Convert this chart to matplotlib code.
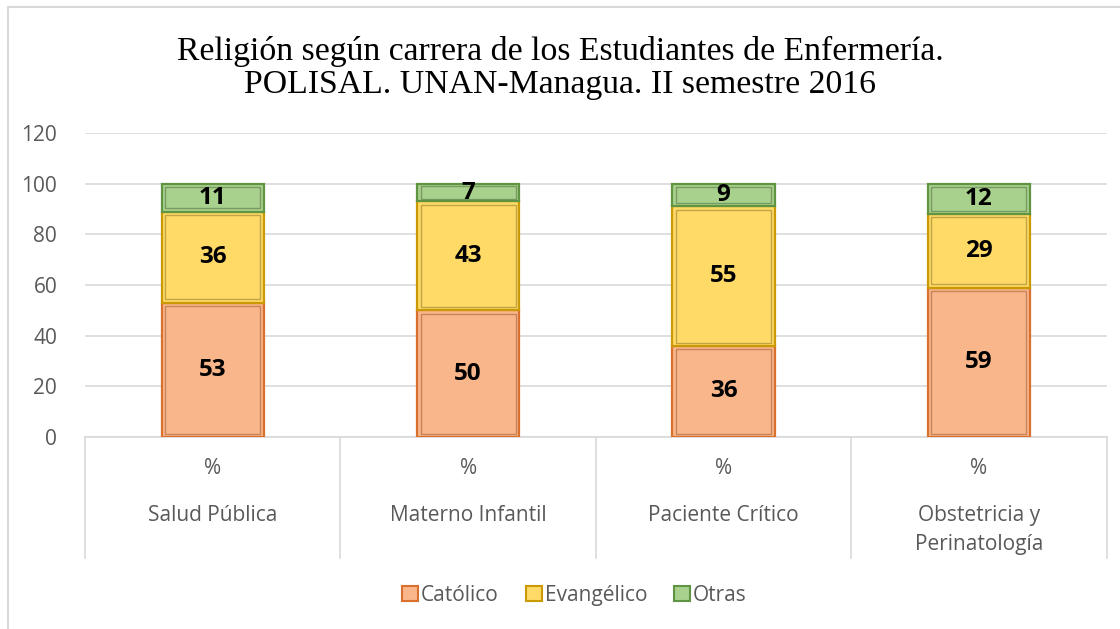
import matplotlib.pyplot as plt
import matplotlib.patches as mpatches
import matplotlib.transforms as mtransforms
import numpy as np

# datos
carreras = ["Salud Pública", "Materno Infantil", "Paciente Crítico", "Obstetricia y\nPerinatología"]
catolico = [53, 50, 36, 59]
evangelico = [36, 43, 55, 29]
otras = [11, 7, 9, 12]
yticks = [0, 20, 40, 60, 80, 100, 120]

series = [
    ("Católico", catolico, "#F9B68A", "#D9702E", "#9E5A33"),
    ("Evangélico", evangelico, "#FFDA66", "#C99A06", "#8E7A2A"),
    ("Otras", otras, "#A9D18E", "#5E9442", "#4F6E3A"),
]

plt.rcParams['font.family'] = ['Open Sans', 'DejaVu Sans']
gris = "#595959"

fig = plt.figure(figsize=(11.2, 6.29), dpi=100)
ax = fig.add_axes([0.0759, 0.3052, 0.9121, 0.4834])

x = np.arange(len(carreras))
bottom = np.zeros(len(carreras))
handles = []
for name, vals, face, edge, dark in series:
    bars = ax.bar(x, vals, 0.4, bottom=bottom, color=face, edgecolor=edge,
                  linewidth=1.6, zorder=3)
    # bisel interior
    for b in bars:
        bx, by = b.get_x(), b.get_y()
        w, h = b.get_width(), b.get_height()
        inset_x = w * 0.035
        inset_y = min(1.3, h * 0.15)
        ax.add_patch(mpatches.Rectangle((bx + inset_x, by + inset_y), w - 2 * inset_x, h - 2 * inset_y,
                                        fill=False, edgecolor=dark, linewidth=1.0, alpha=0.55, zorder=4))
    ax.bar_label(bars, label_type='center', fontsize=17.5, fontweight='bold', color='black', zorder=5)
    bottom += np.array(vals)
    handles.append(mpatches.Patch(facecolor=face, edgecolor=edge, linewidth=1.5, label=name))

ax.set_xlim(-0.5, len(carreras) - 0.5)
ax.set_ylim(0, 120)
ax.set_yticks(yticks)
ax.tick_params(axis='y', length=0, labelsize=15, labelcolor=gris, pad=20)
ax.yaxis.grid(True, color="#D9D9D9", linewidth=1.2, zorder=0)
ax.set_axisbelow(True)
for s in ['top', 'right', 'left']:
    ax.spines[s].set_visible(False)
ax.spines['bottom'].set_color("#D9D9D9")
ax.spines['bottom'].set_linewidth(1.2)

ax.set_xticks(x)
ax.set_xticklabels(["%"] * len(carreras))
ax.tick_params(axis='x', length=0, labelsize=15, labelcolor=gris, pad=15)

trans = mtransforms.blended_transform_factory(ax.transData, ax.transAxes)
for i, c in enumerate(carreras):
    ax.text(i, -0.222, c, transform=trans, ha='center', va='top', fontsize=15,
            color=gris, linespacing=1.5)
for i in range(len(carreras) + 1):
    ax.plot([i - 0.5, i - 0.5], [0, -0.398], transform=trans, color="#D9D9D9",
            linewidth=1.2, clip_on=False)

fig.suptitle("Religión según carrera de los Estudiantes de Enfermería.\nPOLISAL. UNAN-Managua. II semestre 2016",
             y=0.943, fontsize=24.3, family='Liberation Serif', color='black', linespacing=1.1)

fig.legend(handles=handles, loc='center', bbox_to_anchor=(0.513, 0.054), ncol=3, frameon=False,
           fontsize=15, labelcolor=gris, handlelength=0.75, handleheight=0.75, handletextpad=0.15,
           columnspacing=1.3)

# borde del area del grafico
fig.add_artist(plt.Line2D([0.007, 0.007], [0, 0.989], color="#D9D9D9", linewidth=1.5))
fig.add_artist(plt.Line2D([0.007, 1], [0.989, 0.989], color="#D9D9D9", linewidth=1.5))

fig.savefig("out.png", dpi=100)
